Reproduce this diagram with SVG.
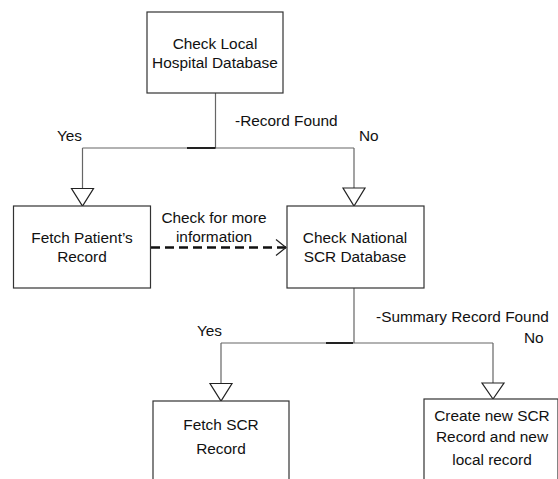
<svg xmlns="http://www.w3.org/2000/svg" width="558" height="479" viewBox="0 0 558 479">
<style>
.box{fill:#fff;stroke:#333;stroke-width:1.2}
.ln{fill:none;stroke:#666;stroke-width:1.2}
.thick{fill:none;stroke:#222;stroke-width:2}
.tri{fill:#fff;stroke:#222;stroke-width:1.2}
text{font-family:"Liberation Sans",Arial,sans-serif;font-size:15.4px;fill:#111}
.c{text-anchor:middle}
</style>
<defs>
<marker id="chev" viewBox="0 0 12 18" refX="11" refY="9" markerWidth="12" markerHeight="18" markerUnits="userSpaceOnUse" orient="auto">
<path d="M1,1 L11,9 L1,17" fill="none" stroke="#222" stroke-width="1.2"/>
</marker>
</defs>
<g id="connectors">
<path class="ln" d="M215.5,93 V148 M82.5,148 H354 M82.5,148 V188 M354,148 V188"/>
<path class="thick" d="M187,148 H215.5"/>
<path class="ln" d="M354,288 V343 M221,343 H493 M221,343 V383 M493,343 V383"/>
<path class="thick" d="M326,343 H353"/>
<path class="tri" d="M71.5,188.5 H93.5 L82.5,206 Z"/>
<path class="tri" d="M343,188 H365 L354,206 Z"/>
<path class="tri" d="M210,383.5 H232 L221,401 Z"/>
<path class="tri" d="M482,383 H504 L493,399 Z"/>
<path d="M151,247.5 H286" fill="none" stroke="#111" stroke-width="2.5" stroke-dasharray="9,5" marker-end="url(#chev)"/>
<text x="82" y="140.5" text-anchor="end">Yes</text>
<text x="359" y="140.5">No</text>
<text x="235" y="126">-Record Found</text>
<text class="c" x="214" y="223">Check for more</text>
<text class="c" x="214" y="241.5">information</text>
<text x="376" y="322">-Summary Record Found</text>
<text x="222" y="336" text-anchor="end">Yes</text>
<text x="524" y="342.5">No</text>
</g>
<g id="n1">
<rect class="box" x="147" y="12" width="136" height="81"/>
<text class="c" x="215" y="48.5">Check Local</text>
<text class="c" x="215" y="67.5">Hospital Database</text>
</g>
<g id="n2">
<rect class="box" x="13.5" y="206" width="137" height="82"/>
<text class="c" x="82" y="243">Fetch Patient’s</text>
<text class="c" x="82" y="261.5">Record</text>
</g>
<g id="n3">
<rect class="box" x="287" y="206" width="137" height="82"/>
<text class="c" x="355" y="243">Check National</text>
<text class="c" x="355" y="261.5">SCR Database</text>
</g>
<g id="n4">
<rect class="box" x="153" y="401" width="136" height="100"/>
<text class="c" x="221" y="429.5">Fetch SCR</text>
<text class="c" x="221" y="453.5">Record</text>
</g>
<g id="n5">
<rect class="box" x="424" y="399" width="134" height="100"/>
<text class="c" x="492" y="420.5">Create new SCR</text>
<text class="c" x="492" y="442">Record and new</text>
<text class="c" x="492" y="464.5">local record</text>
</g>
</svg>
